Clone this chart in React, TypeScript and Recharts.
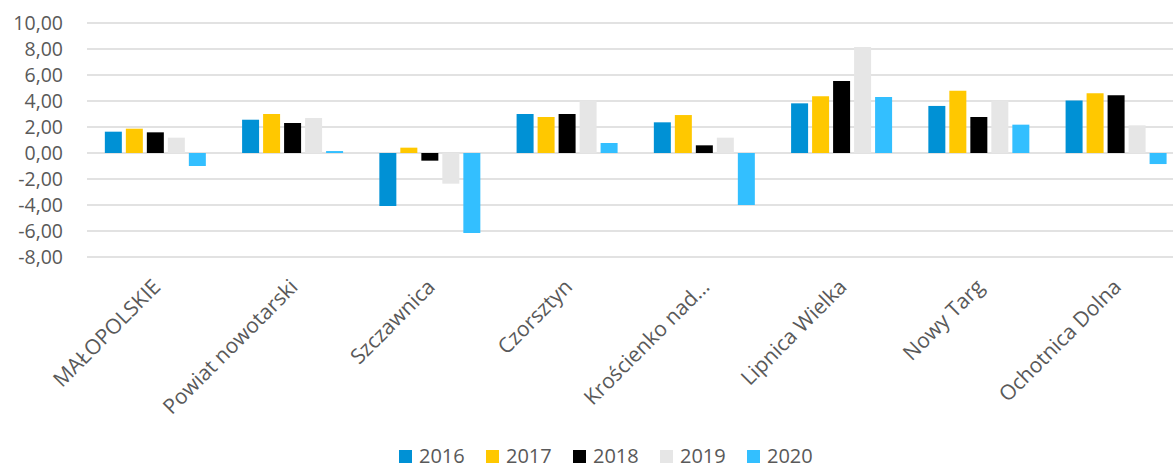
import { Bar, BarChart, CartesianGrid, Legend, XAxis, YAxis } from "recharts";

const categories = [
  "MAŁOPOLSKIE",
  "Powiat nowotarski",
  "Szczawnica",
  "Czorsztyn",
  "Krościenko nad…",
  "Lipnica Wielka",
  "Nowy Targ",
  "Ochotnica Dolna",
];

const values2016 = [1.64, 2.56, -4.08, 3.0, 2.36, 3.82, 3.62, 4.03];
const values2017 = [1.87, 3.0, 0.41, 2.77, 2.92, 4.36, 4.79, 4.59];
const values2018 = [1.59, 2.31, -0.59, 3.0, 0.59, 5.54, 2.77, 4.44];
const values2019 = [1.18, 2.69, -2.36, 4.03, 1.18, 8.15, 4.03, 2.13];
const values2020 = [-1.0, 0.15, -6.15, 0.77, -4.0, 4.31, 2.18, -0.85];

const yTicks = [-8, -6, -4, -2, 0, 2, 4, 6, 8, 10];

const series = [
  { key: "y2016", name: "2016", color: "#0091d5", values: values2016 },
  { key: "y2017", name: "2017", color: "#ffc800", values: values2017 },
  { key: "y2018", name: "2018", color: "#000000", values: values2018 },
  { key: "y2019", name: "2019", color: "#e6e6e6", values: values2019 },
  { key: "y2020", name: "2020", color: "#33bfff", values: values2020 },
];

const chartData = categories.map((name, i) => {
  const row: Record<string, string | number> = { name };
  series.forEach((s) => {
    row[s.key] = s.values[i];
  });
  return row;
});

const FONT = "'Open Sans', sans-serif";
const TEXT = "#595959";

function formatTick(value: number) {
  return value.toFixed(2).replace(".", ",");
}

function CategoryTick({ x, y, payload }: any) {
  return (
    <g transform={`translate(${x + 1},${y + 26})`}>
      <text
        textAnchor="end"
        transform="rotate(-45)"
        dy="0.35em"
        fill={TEXT}
        fontSize={21}
        fontFamily={FONT}
      >
        {payload.value}
      </text>
    </g>
  );
}

function YearLegend() {
  return (
    <div
      style={{
        height: 72,
        display: "flex",
        alignItems: "flex-end",
        paddingLeft: 399,
        paddingBottom: 5,
        boxSizing: "border-box",
      }}
    >
      {series.map((s) => (
        <div
          key={s.key}
          style={{
            display: "flex",
            alignItems: "center",
            width: 87,
            height: 16,
          }}
        >
          <span
            style={{ width: 13, height: 13, background: s.color, marginRight: 7 }}
          />
          <span style={{ fontFamily: FONT, fontSize: 20, color: TEXT, lineHeight: "16px" }}>
            {s.name}
          </span>
        </div>
      ))}
    </div>
  );
}

export default function App() {
  return (
    <div
      style={{
        position: "absolute",
        top: 0,
        left: 0,
        width: 1173,
        height: 469,
        overflow: "hidden",
        background: "#fff",
      }}
    >
      <BarChart
        width={1185}
        height={469}
        data={chartData}
        margin={{ top: 23, right: 0, left: 0, bottom: 0 }}
        barCategoryGap="13%"
        barGap={4}
      >
        <CartesianGrid vertical={false} stroke="#d9d9d9" strokeWidth={1.5} />
        <XAxis
          dataKey="name"
          interval={0}
          height={140}
          axisLine={false}
          tickLine={false}
          tickSize={0}
          tickMargin={0}
          tick={<CategoryTick />}
        />
        <YAxis
          width={87}
          domain={[-8, 10]}
          ticks={yTicks}
          interval={0}
          axisLine={false}
          tickLine={false}
          tickSize={0}
          tickMargin={24}
          tickFormatter={formatTick}
          tick={{ fill: TEXT, fontSize: 19.5, fontFamily: FONT }}
        />
        <Legend verticalAlign="bottom" content={<YearLegend />} />
        {series.map((s) => (
          <Bar
            key={s.key}
            dataKey={s.key}
            name={s.name}
            fill={s.color}
            isAnimationActive={false}
          />
        ))}
      </BarChart>
    </div>
  );
}
